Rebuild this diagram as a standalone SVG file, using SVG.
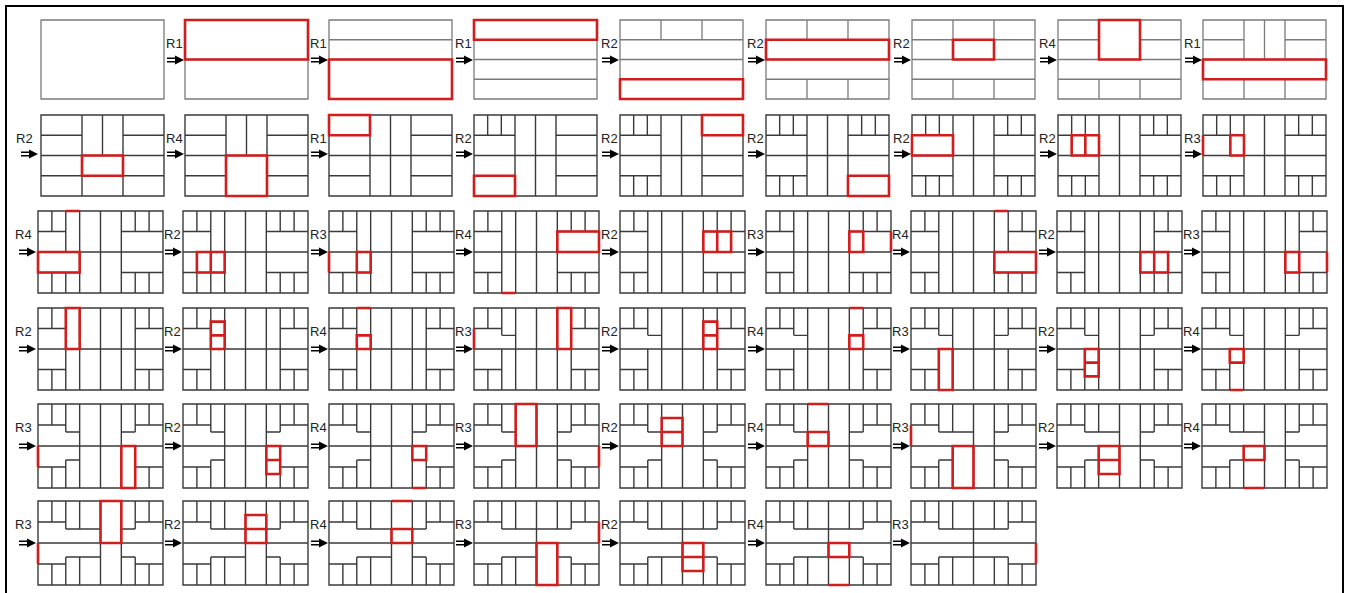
<svg xmlns="http://www.w3.org/2000/svg" xmlns:xlink="http://www.w3.org/1999/xlink" width="1347" height="593" viewBox="0 0 1347 593">
<style>
.f,.l{fill:none;stroke:#3a3a3a;stroke-width:1.4;vector-effect:non-scaling-stroke}
.g .f,.g .l{stroke:#7a7a7a;stroke-width:1.3}
.r{fill:none;stroke:#d21d1d;stroke-width:2.6;vector-effect:non-scaling-stroke}
.t{font-family:"Liberation Sans",Arial,sans-serif;font-size:13px;fill:#222}
</style>
<defs>
<g id="a"><path d="M0 -1.7H10M0 1.7H10" stroke="#000" stroke-width="1.5"/><path d="M8 -4.5L17 0L8 4.5Z" fill="#000"/></g>
</defs>
<rect x="6" y="6" width="1337" height="592" fill="#fff" stroke="#000" stroke-width="2"/>

<g id="row1" class="g">
<g id="p1" transform="translate(41,20) scale(6.833,6.583)"><rect class="f" width="18" height="12"/></g>
<g id="p2" transform="translate(185,20) scale(6.833,6.583)"><rect class="f" width="18" height="12"/><path class="l" d="M0 6H18"/><path class="r" d="M0 0H18V6H0Z"/></g>
<g id="p3" transform="translate(329,20) scale(6.833,6.583)"><rect class="f" width="18" height="12"/><path class="l" d="M0 3H18M0 6H18"/><path class="r" d="M0 6H18V12H0Z"/></g>
<g id="p4" transform="translate(474,20) scale(6.833,6.583)"><rect class="f" width="18" height="12"/><path class="l" d="M0 3H18M0 6H18M0 9H18"/><path class="r" d="M0 0H18V3H0Z"/></g>
<g id="p5" transform="translate(620,20) scale(6.833,6.583)"><rect class="f" width="18" height="12"/><path class="l" d="M0 3H18M0 6H18M0 9H18M6 0V3M12 0V3"/><path class="r" d="M0 9H18V12H0Z"/></g>
<g id="p6" transform="translate(766,20) scale(6.833,6.583)"><rect class="f" width="18" height="12"/><path class="l" d="M0 3H18M0 6H18M0 9H18M6 0V3M12 0V3M6 9V12M12 9V12"/><path class="r" d="M0 3H18V6H0Z"/></g>
<g id="p7" transform="translate(912,20) scale(6.833,6.583)"><rect class="f" width="18" height="12"/><path class="l" d="M0 3H18M0 6H18M0 9H18M6 0V6M12 0V6M6 9V12M12 9V12"/><path class="r" d="M6 3H12V6H6Z"/></g>
<g id="p8" transform="translate(1058,20) scale(6.833,6.583)"><rect class="f" width="18" height="12"/><path class="l" d="M0 3H6M12 3H18M0 6H18M0 9H18M6 0V6M12 0V6M6 9V12M12 9V12"/><path class="r" d="M6 0H12V6H6Z"/></g>
<g id="p9" transform="translate(1203,20) scale(6.833,6.583)"><rect class="f" width="18" height="12"/><path class="l" d="M0 3H6M12 3H18M0 6H18M0 9H18M6 0V6M12 0V6M6 9V12M12 9V12M9 0V6"/><path class="r" d="M0 6H18V9H0Z"/></g>
</g>

<g id="row2">
<g id="p10" transform="translate(41,115) scale(6.833,6.75)"><rect class="f" width="18" height="12"/><path class="l" d="M0 3H6M12 3H18M0 6H18M0 9H18M6 0V12M12 0V12M9 0V6"/><path class="r" d="M6 6H12V9H6Z"/></g>
<g id="p11" transform="translate(185,115) scale(6.833,6.75)"><rect class="f" width="18" height="12"/><path class="l" d="M0 3H6M12 3H18M0 6H18M0 9H6M12 9H18M6 0V12M12 0V12M9 0V6"/><path class="r" d="M6 6H12V12H6Z"/></g>
<g id="p12" transform="translate(329,115) scale(6.833,6.75)"><rect class="f" width="18" height="12"/><path class="l" d="M0 3H6M12 3H18M0 6H18M0 9H6M12 9H18M6 0V12M12 0V12M9 0V12"/><path class="r" d="M0 0H6V3H0Z"/></g>
<g id="p13" transform="translate(474,115) scale(6.833,6.75)"><rect class="f" width="18" height="12"/><path class="l" d="M0 3H6M12 3H18M0 6H18M0 9H6M12 9H18M6 0V12M12 0V12M9 0V12M2 0V3M4 0V3"/><path class="r" d="M0 9H6V12H0Z"/></g>
<g id="p14" transform="translate(620,115) scale(6.833,6.75)"><rect class="f" width="18" height="12"/><path class="l" d="M0 3H6M12 3H18M0 6H18M0 9H6M12 9H18M6 0V12M12 0V12M9 0V12M2 0V3M4 0V3M2 9V12M4 9V12"/><path class="r" d="M12 0H18V3H12Z"/></g>
<g id="p15" transform="translate(766,115) scale(6.833,6.75)"><rect class="f" width="18" height="12"/><path class="l" d="M0 3H6M12 3H18M0 6H18M0 9H6M12 9H18M6 0V12M12 0V12M9 0V12M2 0V3M4 0V3M2 9V12M4 9V12M14 0V3M16 0V3"/><path class="r" d="M12 9H18V12H12Z"/></g>
<g id="p16" transform="translate(912,115) scale(6.833,6.75)"><rect class="f" width="18" height="12"/><path class="l" d="M0 3H6M12 3H18M0 6H18M0 9H6M12 9H18M6 0V12M12 0V12M9 0V12M2 0V3M4 0V3M2 9V12M4 9V12M14 0V3M16 0V3M14 9V12M16 9V12"/><path class="r" d="M0 3H6V6H0Z"/></g>
<g id="p17" transform="translate(1058,115) scale(6.833,6.75)"><rect class="f" width="18" height="12"/><path class="l" d="M0 3H6M12 3H18M0 6H18M0 9H6M12 9H18M6 0V12M12 0V12M9 0V12M2 0V3M4 0V3M2 9V12M4 9V12M14 0V3M16 0V3M14 9V12M16 9V12M2 3V6M4 3V6"/><path class="r" d="M2 3H4V6H2ZM4 3H6V6H4Z"/></g>
<g id="p18" transform="translate(1203,115) scale(6.833,6.75)"><rect class="f" width="18" height="12"/><path class="l" d="M0 3H6M12 3H18M0 6H18M0 9H6M12 9H18M6 0V12M12 0V12M9 0V12M2 0V3M4 0V3M2 9V12M4 9V12M14 0V3M16 0V3M14 9V12M16 9V12M4 3V6"/><path class="r" d="M4 3H6V6H4ZM0 3V6"/></g>
</g>

<g id="row3">
<g id="p19" transform="translate(38,211) scale(6.944,6.833)"><rect class="f" width="18" height="12"/><path class="l" d="M0 3H4M12 3H18M0 6H18M0 9H6M12 9H18M6 0V12M9 0V12M12 0V12M2 0V3M4 0V6M2 9V12M4 9V12M14 0V3M16 0V3M14 9V12M16 9V12"/><path class="r" d="M0 6H6V9H0ZM4 0H6"/></g>
<g id="p20" transform="translate(183,211) scale(6.944,6.833)"><rect class="f" width="18" height="12"/><path class="l" d="M0 3H4M12 3H18M0 6H18M0 9H6M12 9H18M6 0V12M9 0V12M12 0V12M2 0V3M4 0V6M2 9V12M4 9V12M14 0V3M16 0V3M14 9V12M16 9V12M2 6V9M4 6V9"/><path class="r" d="M2 6H4V9H2ZM4 6H6V9H4Z"/></g>
<g id="p21" transform="translate(329,211) scale(6.944,6.833)"><rect class="f" width="18" height="12"/><path class="l" d="M0 3H4M12 3H18M0 6H18M0 9H6M12 9H18M6 0V12M9 0V12M12 0V12M2 0V3M4 0V6M2 9V12M4 9V12M14 0V3M16 0V3M14 9V12M16 9V12M4 6V9"/><path class="r" d="M4 6H6V9H4ZM0 6V9"/></g>
<g id="p22" transform="translate(474,211) scale(6.944,6.833)"><rect class="f" width="18" height="12"/><path class="l" d="M0 3H4M12 3H18M0 6H18M0 9H4M12 9H18M6 0V12M9 0V12M12 0V12M2 0V3M4 0V12M2 9V12M14 0V3M16 0V3M14 9V12M16 9V12"/><path class="r" d="M12 3H18V6H12ZM4 12H6"/></g>
<g id="p23" transform="translate(620,211) scale(6.944,6.833)"><rect class="f" width="18" height="12"/><path class="l" d="M0 3H4M12 3H18M0 6H18M0 9H4M12 9H18M6 0V12M9 0V12M12 0V12M2 0V3M4 0V12M2 9V12M14 0V3M16 0V3M14 9V12M16 9V12M14 3V6M16 3V6"/><path class="r" d="M12 3H14V6H12ZM14 3H16V6H14Z"/></g>
<g id="p24" transform="translate(766,211) scale(6.944,6.833)"><rect class="f" width="18" height="12"/><path class="l" d="M0 3H4M12 3H18M0 6H18M0 9H4M12 9H18M6 0V12M9 0V12M12 0V12M2 0V3M4 0V12M2 9V12M14 0V3M16 0V3M14 9V12M16 9V12M14 3V6"/><path class="r" d="M12 3H14V6H12ZM18 3V6"/></g>
<g id="p25" transform="translate(911,211) scale(6.944,6.833)"><rect class="f" width="18" height="12"/><path class="l" d="M0 3H4M14 3H18M0 6H18M0 9H4M12 9H18M6 0V12M9 0V12M12 0V12M2 0V3M4 0V12M2 9V12M14 0V6M16 0V3M14 9V12M16 9V12"/><path class="r" d="M12 6H18V9H12ZM12 0H14"/></g>
<g id="p26" transform="translate(1057,211) scale(6.944,6.833)"><rect class="f" width="18" height="12"/><path class="l" d="M0 3H4M14 3H18M0 6H18M0 9H4M12 9H18M6 0V12M9 0V12M12 0V12M2 0V3M4 0V12M2 9V12M14 0V6M16 0V3M14 9V12M16 9V12M14 6V9M16 6V9"/><path class="r" d="M12 6H14V9H12ZM14 6H16V9H14Z"/></g>
<g id="p27" transform="translate(1202,211) scale(6.944,6.833)"><rect class="f" width="18" height="12"/><path class="l" d="M0 3H4M14 3H18M0 6H18M0 9H4M12 9H18M6 0V12M9 0V12M12 0V12M2 0V3M4 0V12M2 9V12M14 0V6M16 0V3M14 9V12M16 9V12M14 6V9"/><path class="r" d="M12 6H14V9H12ZM18 6V9"/></g>
</g>

<g id="row4">
<g id="p28" transform="translate(38,308) scale(6.944,6.833)"><rect class="f" width="18" height="12"/><path class="l" d="M0 3H4M14 3H18M0 6H18M0 9H4M14 9H18M6 0V12M9 0V12M12 0V12M2 0V3M4 0V12M2 9V12M14 0V12M16 0V3M16 9V12"/><path class="r" d="M4 0H6V6H4Z"/></g>
<g id="p29" transform="translate(183,308) scale(6.944,6.833)"><rect class="f" width="18" height="12"/><path class="l" d="M0 3H4M14 3H18M0 6H18M0 9H4M14 9H18M6 0V12M9 0V12M12 0V12M2 0V3M4 0V12M2 9V12M14 0V12M16 0V3M16 9V12M4 2H6M4 4H6"/><path class="r" d="M4 2H6V4H4ZM4 4H6V6H4Z"/></g>
<g id="p30" transform="translate(329,308) scale(6.944,6.833)"><rect class="f" width="18" height="12"/><path class="l" d="M0 3H4M14 3H18M0 6H18M0 9H4M14 9H18M6 0V12M9 0V12M12 0V12M2 0V3M4 0V12M2 9V12M14 0V12M16 0V3M16 9V12M4 4H6"/><path class="r" d="M4 4H6V6H4ZM4 0H6"/></g>
<g id="p31" transform="translate(474,308) scale(6.944,6.833)"><rect class="f" width="18" height="12"/><path class="l" d="M0 3H4M4 4H6M14 3H18M0 6H18M0 9H4M14 9H18M6 0V12M9 0V12M12 0V12M2 0V3M4 0V4M4 6V12M2 9V12M14 0V12M16 0V3M16 9V12"/><path class="r" d="M12 0H14V6H12ZM0 3V6"/></g>
<g id="p32" transform="translate(620,308) scale(6.944,6.833)"><rect class="f" width="18" height="12"/><path class="l" d="M0 3H4M4 4H6M14 3H18M0 6H18M0 9H4M14 9H18M6 0V12M9 0V12M12 0V12M2 0V3M4 0V4M4 6V12M2 9V12M14 0V12M16 0V3M16 9V12M12 2H14M12 4H14"/><path class="r" d="M12 2H14V4H12ZM12 4H14V6H12Z"/></g>
<g id="p33" transform="translate(766,308) scale(6.944,6.833)"><rect class="f" width="18" height="12"/><path class="l" d="M0 3H4M4 4H6M14 3H18M0 6H18M0 9H4M14 9H18M6 0V12M9 0V12M12 0V12M2 0V3M4 0V4M4 6V12M2 9V12M14 0V12M16 0V3M16 9V12M12 4H14"/><path class="r" d="M12 4H14V6H12ZM12 0H14"/></g>
<g id="p34" transform="translate(911,308) scale(6.944,6.833)"><rect class="f" width="18" height="12"/><path class="l" d="M0 3H4M4 4H6M12 4H14M14 3H18M0 6H18M0 9H4M14 9H18M6 0V12M9 0V12M12 0V12M2 0V3M4 0V4M4 6V12M2 9V12M14 0V4M14 6V12M16 0V3M16 9V12"/><path class="r" d="M4 6H6V12H4Z"/></g>
<g id="p35" transform="translate(1057,308) scale(6.944,6.833)"><rect class="f" width="18" height="12"/><path class="l" d="M0 3H4M4 4H6M12 4H14M14 3H18M0 6H18M0 9H4M14 9H18M6 0V12M9 0V12M12 0V12M2 0V3M4 0V4M4 6V12M2 9V12M14 0V4M14 6V12M16 0V3M16 9V12M4 8H6M4 10H6"/><path class="r" d="M4 6H6V8H4ZM4 8H6V10H4Z"/></g>
<g id="p36" transform="translate(1202,308) scale(6.944,6.833)"><rect class="f" width="18" height="12"/><path class="l" d="M0 3H4M4 4H6M12 4H14M14 3H18M0 6H18M0 9H4M14 9H18M6 0V12M9 0V12M12 0V12M2 0V3M4 0V4M4 6V12M2 9V12M14 0V4M14 6V12M16 0V3M16 9V12M4 8H6"/><path class="r" d="M4 6H6V8H4ZM4 12H6"/></g>
</g>

<g id="row5">
<g id="p37" transform="translate(38,404) scale(6.944,7)"><rect class="f" width="18" height="12"/><path class="l" d="M0 3H4M4 4H6M12 4H14M14 3H18M0 6H18M0 9H4M4 8H6M14 9H18M6 0V12M9 0V12M12 0V12M2 0V3M4 0V4M4 8V12M2 9V12M14 0V4M14 6V12M16 0V3M16 9V12"/><path class="r" d="M12 6H14V12H12ZM0 6V9"/></g>
<g id="p38" transform="translate(183,404) scale(6.944,7)"><rect class="f" width="18" height="12"/><path class="l" d="M0 3H4M4 4H6M12 4H14M14 3H18M0 6H18M0 9H4M4 8H6M14 9H18M6 0V12M9 0V12M12 0V12M2 0V3M4 0V4M4 8V12M2 9V12M14 0V4M14 6V12M16 0V3M16 9V12M12 8H14M12 10H14"/><path class="r" d="M12 6H14V8H12ZM12 8H14V10H12Z"/></g>
<g id="p39" transform="translate(329,404) scale(6.944,7)"><rect class="f" width="18" height="12"/><path class="l" d="M0 3H4M4 4H6M12 4H14M14 3H18M0 6H18M0 9H4M4 8H6M14 9H18M6 0V12M9 0V12M12 0V12M2 0V3M4 0V4M4 8V12M2 9V12M14 0V4M14 6V12M16 0V3M16 9V12M12 8H14"/><path class="r" d="M12 6H14V8H12ZM12 12H14"/></g>
<g id="p40" transform="translate(474,404) scale(6.944,7)"><rect class="f" width="18" height="12"/><path class="l" d="M0 3H4M4 4H6M12 4H14M14 3H18M0 6H18M0 9H4M4 8H6M12 8H14M14 9H18M6 0V12M9 0V12M12 0V12M2 0V3M4 0V4M4 8V12M2 9V12M14 0V4M14 8V12M16 0V3M16 9V12"/><path class="r" d="M6 0H9V6H6ZM18 6V9"/></g>
<g id="p41" transform="translate(620,404) scale(6.944,7)"><rect class="f" width="18" height="12"/><path class="l" d="M0 3H4M4 4H6M12 4H14M14 3H18M0 6H18M0 9H4M4 8H6M12 8H14M14 9H18M6 0V12M9 0V12M12 0V12M2 0V3M4 0V4M4 8V12M2 9V12M14 0V4M14 8V12M16 0V3M16 9V12M6 2H9M6 4H9"/><path class="r" d="M6 2H9V4H6ZM6 4H9V6H6Z"/></g>
<g id="p42" transform="translate(766,404) scale(6.944,7)"><rect class="f" width="18" height="12"/><path class="l" d="M0 3H4M4 4H6M12 4H14M14 3H18M0 6H18M0 9H4M4 8H6M12 8H14M14 9H18M6 0V12M9 0V12M12 0V12M2 0V3M4 0V4M4 8V12M2 9V12M14 0V4M14 8V12M16 0V3M16 9V12M6 4H9"/><path class="r" d="M6 4H9V6H6ZM6 0H9"/></g>
<g id="p43" transform="translate(911,404) scale(6.944,7)"><rect class="f" width="18" height="12"/><path class="l" d="M0 3H4M4 4H9M12 4H14M14 3H18M0 6H18M0 9H4M4 8H6M12 8H14M14 9H18M6 0V4M6 6V12M9 0V12M12 0V12M2 0V3M4 0V4M4 8V12M2 9V12M14 0V4M14 8V12M16 0V3M16 9V12"/><path class="r" d="M6 6H9V12H6ZM0 3V6"/></g>
<g id="p44" transform="translate(1057,404) scale(6.944,7)"><rect class="f" width="18" height="12"/><path class="l" d="M0 3H4M4 4H9M12 4H14M14 3H18M0 6H18M0 9H4M4 8H6M12 8H14M14 9H18M6 0V4M6 6V12M9 0V12M12 0V12M2 0V3M4 0V4M4 8V12M2 9V12M14 0V4M14 8V12M16 0V3M16 9V12M6 8H9M6 10H9"/><path class="r" d="M6 6H9V8H6ZM6 8H9V10H6Z"/></g>
<g id="p45" transform="translate(1202,404) scale(6.944,7)"><rect class="f" width="18" height="12"/><path class="l" d="M0 3H4M4 4H9M12 4H14M14 3H18M0 6H18M0 9H4M4 8H6M12 8H14M14 9H18M6 0V4M6 6V12M9 0V12M12 0V12M2 0V3M4 0V4M4 8V12M2 9V12M14 0V4M14 8V12M16 0V3M16 9V12M6 8H9"/><path class="r" d="M6 6H9V8H6ZM6 12H9"/></g>
</g>

<g id="row6">
<g id="p46" transform="translate(38,501) scale(6.944,7)"><rect class="f" width="18" height="12"/><path class="l" d="M0 3H4M4 4H9M12 4H14M14 3H18M0 6H18M0 9H4M4 8H9M12 8H14M14 9H18M6 0V4M6 8V12M9 0V12M12 0V12M2 0V3M4 0V4M4 8V12M2 9V12M14 0V4M14 8V12M16 0V3M16 9V12"/><path class="r" d="M9 0H12V6H9ZM0 6V9"/></g>
<g id="p47" transform="translate(183,501) scale(6.944,7)"><rect class="f" width="18" height="12"/><path class="l" d="M0 3H4M4 4H9M12 4H14M14 3H18M0 6H18M0 9H4M4 8H9M12 8H14M14 9H18M6 0V4M6 8V12M9 0V12M12 0V12M2 0V3M4 0V4M4 8V12M2 9V12M14 0V4M14 8V12M16 0V3M16 9V12M9 2H12M9 4H12"/><path class="r" d="M9 2H12V4H9ZM9 4H12V6H9Z"/></g>
<g id="p48" transform="translate(329,501) scale(6.944,7)"><rect class="f" width="18" height="12"/><path class="l" d="M0 3H4M4 4H9M12 4H14M14 3H18M0 6H18M0 9H4M4 8H9M12 8H14M14 9H18M6 0V4M6 8V12M9 0V12M12 0V12M2 0V3M4 0V4M4 8V12M2 9V12M14 0V4M14 8V12M16 0V3M16 9V12M9 4H12"/><path class="r" d="M9 4H12V6H9ZM9 0H12"/></g>
<g id="p49" transform="translate(474,501) scale(6.944,7)"><rect class="f" width="18" height="12"/><path class="l" d="M0 3H4M4 4H14M14 3H18M0 6H18M0 9H4M4 8H9M12 8H14M14 9H18M6 0V4M6 8V12M9 0V12M12 0V4M12 6V12M2 0V3M4 0V4M4 8V12M2 9V12M14 0V4M14 8V12M16 0V3M16 9V12"/><path class="r" d="M9 6H12V12H9ZM18 3V6"/></g>
<g id="p50" transform="translate(620,501) scale(6.944,7)"><rect class="f" width="18" height="12"/><path class="l" d="M0 3H4M4 4H14M14 3H18M0 6H18M0 9H4M4 8H9M12 8H14M14 9H18M6 0V4M6 8V12M9 0V12M12 0V4M12 6V12M2 0V3M4 0V4M4 8V12M2 9V12M14 0V4M14 8V12M16 0V3M16 9V12M9 8H12M9 10H12"/><path class="r" d="M9 6H12V8H9ZM9 8H12V10H9Z"/></g>
<g id="p51" transform="translate(766,501) scale(6.944,7)"><rect class="f" width="18" height="12"/><path class="l" d="M0 3H4M4 4H14M14 3H18M0 6H18M0 9H4M4 8H9M12 8H14M14 9H18M6 0V4M6 8V12M9 0V12M12 0V4M12 6V12M2 0V3M4 0V4M4 8V12M2 9V12M14 0V4M14 8V12M16 0V3M16 9V12M9 8H12"/><path class="r" d="M9 6H12V8H9ZM9 12H12"/></g>
<g id="p52" transform="translate(911,501) scale(6.944,7)"><rect class="f" width="18" height="12"/><path class="l" d="M0 3H4M4 4H14M14 3H18M0 6H18M0 9H4M4 8H14M14 9H18M6 0V4M6 8V12M9 0V12M12 0V4M12 8V12M2 0V3M4 0V4M4 8V12M2 9V12M14 0V4M14 8V12M16 0V3M16 9V12"/><path class="r" d="M18 6V9"/></g>
</g>

<g id="connectors">
<g class="t">
<text x="166" y="48">R1</text><text x="310" y="48">R1</text><text x="455" y="48">R1</text><text x="601" y="48">R2</text><text x="747" y="48">R2</text><text x="893" y="48">R2</text><text x="1039" y="48">R4</text><text x="1184" y="48">R1</text>
<text x="16" y="143">R2</text><text x="166" y="143">R4</text><text x="310" y="143">R1</text><text x="455" y="143">R2</text><text x="601" y="143">R2</text><text x="747" y="143">R2</text><text x="893" y="143">R2</text><text x="1039" y="143">R2</text><text x="1184" y="143">R3</text>
<text x="15" y="239">R4</text><text x="164" y="239">R2</text><text x="310" y="239">R3</text><text x="455" y="239">R4</text><text x="601" y="239">R2</text><text x="747" y="239">R3</text><text x="892" y="239">R4</text><text x="1038" y="239">R2</text><text x="1183" y="239">R3</text>
<text x="15" y="336">R2</text><text x="164" y="336">R2</text><text x="310" y="336">R4</text><text x="455" y="336">R3</text><text x="601" y="336">R2</text><text x="747" y="336">R4</text><text x="892" y="336">R3</text><text x="1038" y="336">R2</text><text x="1183" y="336">R4</text>
<text x="15" y="432">R3</text><text x="164" y="432">R2</text><text x="310" y="432">R4</text><text x="455" y="432">R3</text><text x="601" y="432">R2</text><text x="747" y="432">R4</text><text x="892" y="432">R3</text><text x="1038" y="432">R2</text><text x="1183" y="432">R4</text>
<text x="15" y="529">R3</text><text x="164" y="529">R2</text><text x="310" y="529">R4</text><text x="455" y="529">R3</text><text x="601" y="529">R2</text><text x="747" y="529">R4</text><text x="892" y="529">R3</text>
</g>
<use href="#a" x="167" y="60"/><use href="#a" x="311" y="60"/><use href="#a" x="456" y="60"/><use href="#a" x="602" y="60"/><use href="#a" x="748" y="60"/><use href="#a" x="894" y="60"/><use href="#a" x="1040" y="60"/><use href="#a" x="1185" y="60"/>
<use href="#a" x="21" y="154"/><use href="#a" x="167" y="154"/><use href="#a" x="311" y="154"/><use href="#a" x="456" y="154"/><use href="#a" x="602" y="154"/><use href="#a" x="748" y="154"/><use href="#a" x="894" y="154"/><use href="#a" x="1040" y="154"/><use href="#a" x="1185" y="154"/>
<use href="#a" x="19" y="252"/><use href="#a" x="165" y="252"/><use href="#a" x="311" y="252"/><use href="#a" x="456" y="252"/><use href="#a" x="602" y="252"/><use href="#a" x="748" y="252"/><use href="#a" x="893" y="252"/><use href="#a" x="1039" y="252"/><use href="#a" x="1184" y="252"/>
<use href="#a" x="19" y="349"/><use href="#a" x="165" y="349"/><use href="#a" x="311" y="349"/><use href="#a" x="456" y="349"/><use href="#a" x="602" y="349"/><use href="#a" x="748" y="349"/><use href="#a" x="893" y="349"/><use href="#a" x="1039" y="349"/><use href="#a" x="1184" y="349"/>
<use href="#a" x="19" y="446"/><use href="#a" x="165" y="446"/><use href="#a" x="311" y="446"/><use href="#a" x="456" y="446"/><use href="#a" x="602" y="446"/><use href="#a" x="748" y="446"/><use href="#a" x="893" y="446"/><use href="#a" x="1039" y="446"/><use href="#a" x="1184" y="446"/>
<use href="#a" x="19" y="543"/><use href="#a" x="165" y="543"/><use href="#a" x="311" y="543"/><use href="#a" x="456" y="543"/><use href="#a" x="602" y="543"/><use href="#a" x="748" y="543"/><use href="#a" x="893" y="543"/>
</g>
</svg>
